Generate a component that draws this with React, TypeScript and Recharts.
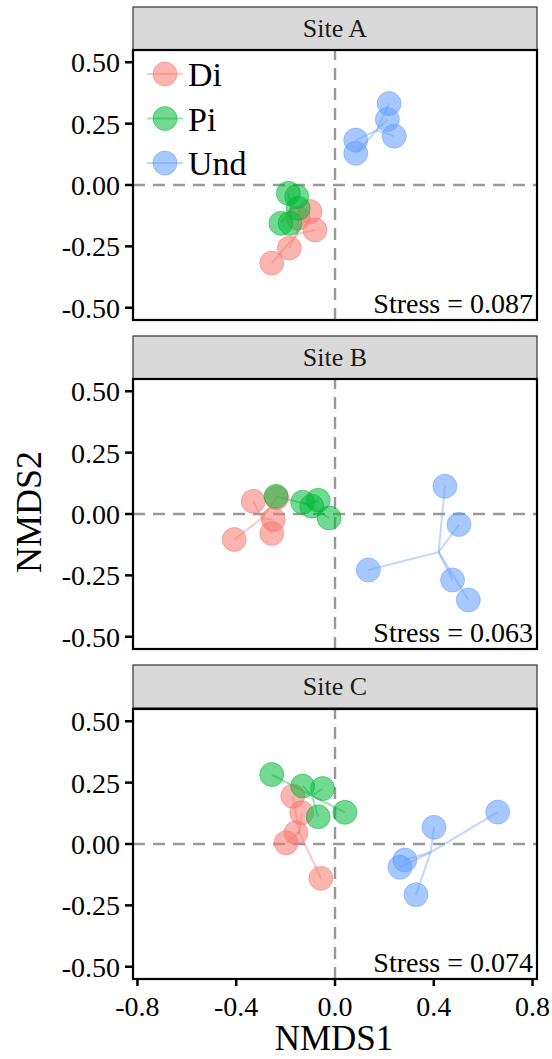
import React from 'react';
import { ScatterChart, Scatter, XAxis, YAxis, ReferenceLine, Legend } from 'recharts';

const FONT = "'Liberation Serif', 'Times New Roman', serif";

const groups = ['Di', 'Pi', 'Und'];
const groupColors = ['#F8766D', '#00BA38', '#619CFF'];
const xTicks = [-0.8, -0.4, 0, 0.4, 0.8];
const yTicks = [-0.5, -0.25, 0, 0.25, 0.5];
const siteNames = ['Site A', 'Site B', 'Site C'];
const stressValues = ['0.087', '0.063', '0.074'];

const siteA_Di = [
  { x: -0.101, y: -0.108 }, { x: -0.081, y: -0.183 }, { x: -0.185, y: -0.257 },
  { x: -0.256, y: -0.318 }, { x: -0.149, y: -0.135 },
];
const siteA_Pi = [
  { x: -0.189, y: -0.034 }, { x: -0.155, y: -0.047 }, { x: -0.149, y: -0.095 },
  { x: -0.219, y: -0.156 }, { x: -0.182, y: -0.156 },
];
const siteA_Und = [
  { x: 0.219, y: 0.332 }, { x: 0.212, y: 0.267 }, { x: 0.240, y: 0.199 },
  { x: 0.084, y: 0.183 }, { x: 0.084, y: 0.129 },
];

const siteB_Di = [
  { x: -0.331, y: 0.052 }, { x: -0.250, y: -0.022 }, { x: -0.256, y: -0.079 },
  { x: -0.408, y: -0.104 }, { x: -0.236, y: 0.066 },
];
const siteB_Pi = [
  { x: -0.239, y: 0.072 }, { x: -0.131, y: 0.048 }, { x: -0.068, y: 0.056 },
  { x: -0.094, y: 0.032 }, { x: -0.024, y: -0.016 },
];
const siteB_Und = [
  { x: 0.445, y: 0.113 }, { x: 0.502, y: -0.043 }, { x: 0.476, y: -0.269 },
  { x: 0.540, y: -0.350 }, { x: 0.135, y: -0.228 },
];

const siteC_Di = [
  { x: -0.171, y: 0.195 }, { x: -0.135, y: 0.127 }, { x: -0.158, y: 0.046 },
  { x: -0.198, y: 0.005 }, { x: -0.057, y: -0.140 },
];
const siteC_Pi = [
  { x: -0.256, y: 0.283 }, { x: -0.131, y: 0.236 }, { x: -0.050, y: 0.226 },
  { x: 0.040, y: 0.129 }, { x: -0.068, y: 0.111 },
];
const siteC_Und = [
  { x: 0.659, y: 0.130 }, { x: 0.401, y: 0.068 }, { x: 0.283, y: -0.065 },
  { x: 0.263, y: -0.095 }, { x: 0.328, y: -0.207 },
];

const sites = [
  [siteA_Di, siteA_Pi, siteA_Und],
  [siteB_Di, siteB_Pi, siteB_Und],
  [siteC_Di, siteC_Pi, siteC_Und],
];

const X_DOMAIN: [number, number] = [-0.818, 0.818];
const Y_DOMAIN: [number, number] = [-0.55, 0.55];

// page layout (px)
const PLOT_LEFT = 133;
const PLOT_RIGHT = 537;
const panelLayout = [
  { chartTop: 0, chartHeight: 330, marginTop: 50, marginBottom: 10, stripTop: 7, plotTop: 50 },
  { chartTop: 330, chartHeight: 330, marginTop: 49, marginBottom: 11, stripTop: 336, plotTop: 379 },
  { chartTop: 660, chartHeight: 399, marginTop: 49, marginBottom: 40, stripTop: 665, plotTop: 709 },
];
const PLOT_H = 270;
const STRIP_H = 43;

const centroid = (pts: { x: number; y: number }[]) => ({
  x: pts.reduce((s, p) => s + p.x, 0) / pts.length,
  y: pts.reduce((s, p) => s + p.y, 0) / pts.length,
});

const makeShape = (color: string) => (props: any) => (
  <circle
    cx={props.cx}
    cy={props.cy}
    r={12}
    fill={color}
    fillOpacity={0.55}
    stroke={color}
    strokeOpacity={0.5}
    strokeWidth={1}
  />
);

const LegendContent = () => (
  <svg width={120} height={140} style={{ display: 'block' }}>
    {groups.map((g, i) => {
      const cy = 24 + i * 44.5;
      return (
        <g key={g}>
          <line x1={7} x2={43} y1={cy} y2={cy} stroke={groupColors[i]} strokeOpacity={0.4} strokeWidth={2} />
          <circle cx={25} cy={cy} r={12} fill={groupColors[i]} fillOpacity={0.55} stroke={groupColors[i]} strokeOpacity={0.5} />
          <text x={48} y={cy + 12} fontFamily={FONT} fontSize={34} fill="#000">{g}</text>
        </g>
      );
    })}
  </svg>
);

function Panel({ index }: { index: number }) {
  const L = panelLayout[index];
  const data = sites[index];
  const isBottom = index === 2;
  return (
    <div style={{ position: 'absolute', left: 0, top: L.chartTop, width: 552, height: L.chartHeight }}>
      <ScatterChart
        width={552}
        height={L.chartHeight}
        margin={{ top: L.marginTop, right: 552 - PLOT_RIGHT, bottom: L.marginBottom, left: 0 }}
      >
        <XAxis
          type="number"
          dataKey="x"
          domain={X_DOMAIN}
          ticks={xTicks}
          allowDataOverflow
          hide={!isBottom}
          height={40}
          axisLine={false}
          tickLine={{ stroke: '#000', strokeWidth: 2.5 }}
          tickSize={7}
          tickMargin={10}
          tickFormatter={(v: number) => v.toFixed(1)}
          tick={{ fill: '#000', fontSize: 28, fontFamily: FONT }}
          interval={0}
        />
        <YAxis
          type="number"
          dataKey="y"
          domain={Y_DOMAIN}
          ticks={yTicks}
          allowDataOverflow
          width={PLOT_LEFT}
          axisLine={false}
          tickLine={{ stroke: '#000', strokeWidth: 2.5 }}
          tickSize={8}
          tickMargin={5}
          tickFormatter={(v: number) => v.toFixed(2)}
          tick={{ fill: '#000', fontSize: 28, fontFamily: FONT }}
          interval={0}
        />
        <ReferenceLine x={0} stroke="#9A9A9A" strokeWidth={2.4} strokeDasharray="12 8" />
        <ReferenceLine y={0} stroke="#9A9A9A" strokeWidth={2.4} strokeDasharray="12 8" />
        {data.map((pts, gi) => {
          const c = centroid(pts);
          return pts.map((p, pi) => (
            <ReferenceLine
              key={`seg-${gi}-${pi}`}
              segment={[{ x: p.x, y: p.y }, { x: c.x, y: c.y }]}
              stroke={groupColors[gi]}
              strokeOpacity={0.4}
              strokeWidth={2}
            />
          ));
        })}
        {data.map((pts, gi) => (
          <Scatter
            key={groups[gi]}
            name={groups[gi]}
            data={pts}
            fill={groupColors[gi]}
            shape={makeShape(groupColors[gi])}
            isAnimationActive={false}
          />
        ))}
        {index === 0 && (
          <Legend
            layout="vertical"
            align="center"
            verticalAlign="middle"
            content={() => <LegendContent />}
            wrapperStyle={{ left: 140, top: 50, width: 120, height: 140 }}
          />
        )}
      </ScatterChart>
    </div>
  );
}

export default function App() {
  return (
    <div style={{ position: 'absolute', left: 0, top: 0, width: 552, height: 1059, background: '#fff', overflow: 'hidden' }}>
      {[0, 1, 2].map((i) => (
        <Panel key={i} index={i} />
      ))}
      <svg
        width={552}
        height={1059}
        style={{ position: 'absolute', left: 0, top: 0, pointerEvents: 'none' }}
      >
        {panelLayout.map((L, i) => (
          <g key={i}>
            <rect
              x={PLOT_LEFT}
              y={L.stripTop}
              width={PLOT_RIGHT - PLOT_LEFT}
              height={STRIP_H}
              fill="#D9D9D9"
              stroke="#333"
              strokeWidth={1.2}
            />
            <text
              x={(PLOT_LEFT + PLOT_RIGHT) / 2}
              y={L.stripTop + 30}
              textAnchor="middle"
              fontFamily={FONT}
              fontSize={26}
              fill="#1a1a1a"
            >
              {siteNames[i]}
            </text>
            <rect
              x={PLOT_LEFT}
              y={L.plotTop}
              width={PLOT_RIGHT - PLOT_LEFT}
              height={PLOT_H}
              fill="none"
              stroke="#000"
              strokeWidth={2.2}
            />
            <text
              x={533}
              y={L.plotTop + 263}
              textAnchor="end"
              fontFamily={FONT}
              fontSize={28}
              fill="#000"
            >
              {`Stress = ${stressValues[i]}`}
            </text>
          </g>
        ))}
        <text
          x={334}
          y={1050}
          textAnchor="middle"
          fontFamily={FONT}
          fontSize={35}
          fill="#000"
        >
          NMDS1
        </text>
        <text
          transform="translate(41,512) rotate(-90)"
          textAnchor="middle"
          fontFamily={FONT}
          fontSize={36}
          fill="#000"
        >
          NMDS2
        </text>
      </svg>
    </div>
  );
}
